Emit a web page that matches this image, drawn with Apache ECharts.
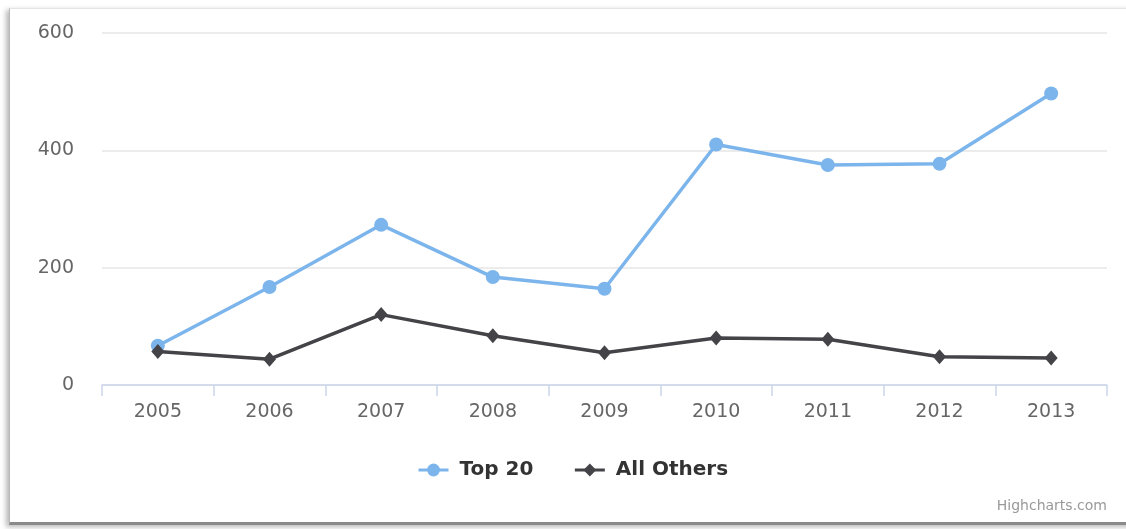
<!DOCTYPE html>
<html>
<head>
<meta charset="utf-8">
<title>Top 20 vs All Others</title>
<script src="https://cdn.jsdelivr.net/npm/echarts@6/dist/echarts.min.js"></script>
<style>
  html, body { margin: 0; padding: 0; background: #ffffff; }
  body { width: 1126px; height: 529px; position: relative; overflow: hidden; }
  /* card frame behind the chart */
  #frame {
    position: absolute; left: 9px; top: 8px; width: 1140px; height: 513px;
    background: #ffffff;
    border-top: 1px solid #e4e4e4;
    border-left: 1px solid #b8b8b8;
    border-bottom: 3px solid #8a8a8a;
    box-shadow: -3px 2px 5px rgba(0,0,0,0.28);
  }
  #chart { position: absolute; left: 0; top: 0; width: 1126px; height: 529px; }
</style>
</head>
<body>
<div id="frame"></div>
<div id="chart"></div>
<script>
  // Years on the category axis
  const years = ['2005', '2006', '2007', '2008', '2009', '2010', '2011', '2012', '2013'];
  // Series values
  const top20 = [67, 167, 273, 184, 164, 410, 375, 377, 497];
  const allOthers = [57, 44, 120, 84, 55, 80, 78, 48, 46];
  // Value axis ticks
  const yMin = 0, yMax = 600, yStep = 200;

  const fontFamily = '"DejaVu Sans", Verdana, sans-serif';

  const chart = echarts.init(document.getElementById('chart'), null, { renderer: 'canvas' });
  chart.setOption({
    backgroundColor: 'transparent',
    animation: false,
    textStyle: { fontFamily: fontFamily },
    grid: { left: 102, right: 19, top: 33, bottom: 144, containLabel: false },
    legend: {
      left: 417, top: 460,
      itemWidth: 30, itemHeight: 16, itemGap: 40,
      padding: 0,
      lineStyle: { width: 3 },
      textStyle: { fontSize: 20, fontWeight: 'bold', color: '#333333', fontFamily: fontFamily, padding: [0, 0, 0, 6] },
      data: ['Top 20', 'All Others']
    },
    xAxis: {
      type: 'category',
      data: years,
      boundaryGap: true,
      axisLine: { show: true, lineStyle: { color: '#ccd6eb', width: 1.5 } },
      axisTick: { show: true, length: 11, lineStyle: { color: '#ccd6eb', width: 1.5 } },
      axisLabel: { color: '#666666', fontSize: 19, margin: 18, fontFamily: fontFamily },
      splitLine: { show: false }
    },
    yAxis: {
      type: 'value',
      min: yMin, max: yMax, interval: yStep,
      axisLine: { show: false },
      axisTick: { show: false },
      axisLabel: { color: '#666666', fontSize: 19, margin: 28, fontFamily: fontFamily },
      splitLine: { show: true, lineStyle: { color: '#e6e6e6', width: 1.5 } }
    },
    series: [
      {
        name: 'Top 20',
        type: 'line',
        data: top20,
        symbol: 'circle',
        symbolSize: 14,
        lineStyle: { color: '#7cb5ec', width: 3.5 },
        itemStyle: { color: '#7cb5ec' }
      },
      {
        name: 'All Others',
        type: 'line',
        data: allOthers,
        symbol: 'diamond',
        symbolSize: [13, 15],
        lineStyle: { color: '#434348', width: 3.5 },
        itemStyle: { color: '#434348' }
      }
    ],
    graphic: [
      {
        type: 'text',
        right: 19, top: 499,
        style: { text: 'Highcharts.com', fill: '#999999', fontSize: 14, fontFamily: fontFamily }
      }
    ]
  });
</script>
</body>
</html>
